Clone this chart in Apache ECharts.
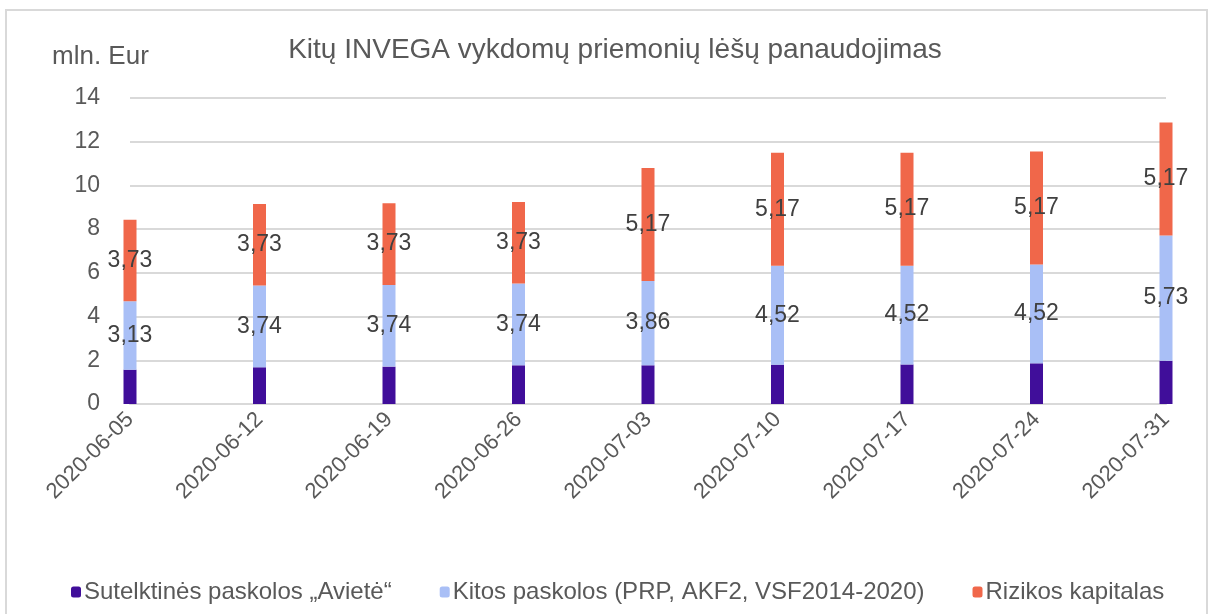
<!DOCTYPE html>
<html>
<head>
<meta charset="utf-8">
<script src="https://cdn.jsdelivr.net/npm/echarts@6/dist/echarts.min.js"></script>
<style>
  html, body { margin: 0; padding: 0; background: #fff; }
  #chart { width: 1213px; height: 614px; }
</style>
</head>
<body>
<div id="chart"></div>
<script>
const dates = ["2020-06-05", "2020-06-12", "2020-06-19", "2020-06-26", "2020-07-03", "2020-07-10", "2020-07-17", "2020-07-24", "2020-07-31"]
const avieteValues = [1.57, 1.68, 1.71, 1.77, 1.77, 1.8, 1.81, 1.86, 1.98]
const kitosValues = [3.13, 3.74, 3.74, 3.74, 3.86, 4.52, 4.52, 4.52, 5.73]
const rizikosValues = [3.73, 3.73, 3.73, 3.73, 5.17, 5.17, 5.17, 5.17, 5.17]
const yTicks = [0, 2, 4, 6, 8, 10, 12, 14]

const textColor = "#595959"
const font = "'Liberation Sans', Arial, sans-serif"

const chart = echarts.init(document.getElementById("chart"))

const fmt = (v) => v.toFixed(2).replace(".", ",")

const label = (show) => ({
  show: show,
  position: "inside",
  color: "#404040",
  fontSize: 23,
  fontFamily: font,
  formatter: (p) => fmt(p.value)
})

chart.setOption({
  animation: false,
  graphic: [
    {
      type: "rect",
      shape: { x: 6, y: 10, width: 1201, height: 640 },
      style: { fill: "none", stroke: "#d9d9d9", lineWidth: 2 }
    }
  ],
  title: {
    text: "Kitų INVEGA vykdomų priemonių lėšų panaudojimas",
    left: 610,
    textAlign: "center",
    top: 31,
    textStyle: { color: textColor, fontSize: 28, fontWeight: "normal", fontFamily: font }
  },
  legend: {
    left: 66,
    top: 575,
    itemWidth: 10,
    itemHeight: 11,
    itemGap: 48,
    textStyle: { color: textColor, fontSize: 24, fontFamily: font, padding: [0, 0, 0, -2] },
    data: ["Sutelktinės paskolos „Avietė“", "Kitos paskolos (PRP, AKF2, VSF2014-2020)", "Rizikos kapitalas"]
  },
  grid: {
    left: 130,
    right: 47,
    top: 98,
    bottom: 210
  },
  xAxis: {
    type: "category",
    data: dates,
    boundaryGap: false,
    axisLine: { show: true, lineStyle: { color: "#d9d9d9", width: 2 } },
    axisTick: { show: false },
    axisLabel: {
      rotate: 45,
      margin: 12,
      color: textColor,
      fontSize: 22,
      fontFamily: font
    }
  },
  yAxis: {
    type: "value",
    min: yTicks[0],
    max: yTicks[yTicks.length - 1],
    interval: 2,
    name: "mln. Eur",
    nameLocation: "end",
    nameGap: 28,
    nameTextStyle: { color: textColor, fontSize: 26, fontFamily: font, align: "left", padding: [0, 0, 0, -78] },
    axisLine: { show: false },
    axisTick: { show: false },
    axisLabel: { color: textColor, fontSize: 23, fontFamily: font, margin: 30 },
    splitLine: { lineStyle: { color: "#d9d9d9", width: 2 } }
  },
  series: [
    {
      name: "Sutelktinės paskolos „Avietė“",
      type: "bar",
      stack: "total",
      barWidth: 13,
      itemStyle: { color: "#400e9a" },
      label: label(false),
      data: avieteValues
    },
    {
      name: "Kitos paskolos (PRP, AKF2, VSF2014-2020)",
      type: "bar",
      stack: "total",
      barWidth: 13,
      itemStyle: { color: "#a9bff6" },
      label: label(true),
      data: kitosValues
    },
    {
      name: "Rizikos kapitalas",
      type: "bar",
      stack: "total",
      barWidth: 13,
      itemStyle: { color: "#f0674a" },
      label: label(true),
      data: rizikosValues
    }
  ]
})
</script>
</body>
</html>
